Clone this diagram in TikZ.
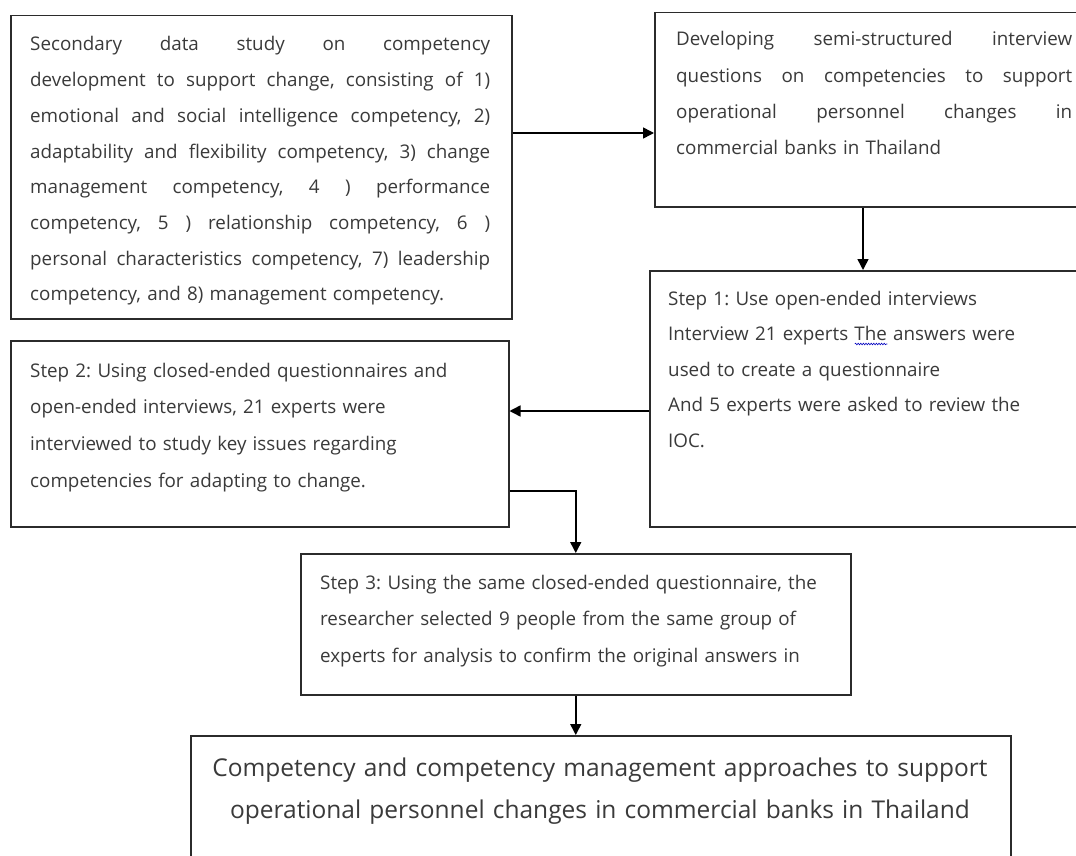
\documentclass[tikz,border=0pt]{standalone}
\usepackage{fontspec}
\setmainfont{Open Sans}
\usetikzlibrary{arrows.meta,decorations.pathmorphing}
\definecolor{txt}{HTML}{3A3A3A}
\definecolor{edge}{HTML}{2B2B2B}
\frenchspacing
\newlength\spellw
\newcommand\spellmark[1]{\settowidth\spellw{#1}\rlap{\tikz[baseline=0pt]\draw[blue!75!black,line width=0.6pt,decorate,decoration={snake,amplitude=0.8pt,segment length=2.6pt}](0pt,-3.5pt)--(\spellw,-3.5pt);}#1}
\newcommand\jl[2]{\leavevmode\hbox to #1{\spaceskip=.3333em plus 1fil\xspaceskip=.3333em plus 1fil\relax #2}\\}
\begin{document}
\begin{tikzpicture}[x=1pt,y=-1pt,
  box/.style={draw=edge,line width=1.5pt,anchor=north west,inner sep=0pt},
  txt/.style={anchor=base west,inner sep=0pt,text=txt,align=left},
  arr/.style={draw=black,line width=1.5pt,-{Triangle[length=11pt,width=11pt]}}]
\useasboundingbox (0,0) rectangle (1076,856);
\fill[white] (0,0) rectangle (1076,856);

% boxes
\node[box,minimum width=501pt,minimum height=303pt] (A) at (10,15) {};
\node[box,minimum width=440pt,minimum height=194pt] (B) at (654,12) {};
\node[box,minimum width=445pt,minimum height=256pt] (C) at (649,270) {};
\node[box,minimum width=498pt,minimum height=186pt] (D) at (10,340) {};
\node[box,minimum width=550pt,minimum height=141pt] (E) at (300,553) {};
\node[box,minimum width=820pt,minimum height=150pt] (F) at (190,735) {};

% texts
\node[txt,text width=460pt,font=\fontsize{18.8}{35.7}\selectfont\frenchspacing] (At) at (30,51) {%
\jl{460pt}{Secondary data study on competency}%
\jl{460pt}{development to support change, consisting of 1)}%
\jl{460pt}{emotional and social intelligence competency, 2)}%
\jl{460pt}{adaptability and flexibility competency, 3) change}%
\jl{460pt}{management competency, 4 ) performance}%
\jl{460pt}{competency, 5 ) relationship competency, 6 )}%
\jl{460pt}{personal characteristics competency, 7) leadership}%
competency, and 8) management competency.};

\node[txt,text width=396pt,font=\fontsize{18.8}{36.3}\selectfont\frenchspacing] (Bt) at (676,46) {%
\jl{396pt}{Developing semi-structured interview}%
\jl{396pt}{questions on competencies to support}%
\jl{396pt}{operational personnel changes in}%
commercial banks in Thailand};

\node[txt,text width=400pt,font=\fontsize{18.8}{35.5}\selectfont\frenchspacing] (Ct) at (668,305) {%
Step 1: Use open-ended interviews\\
Interview 21 experts \spellmark{The} answers were\\
used to create a questionnaire\\
And 5 experts were asked to review the\\
IOC.};

\node[txt,text width=470pt,font=\fontsize{18.8}{36.7}\selectfont\frenchspacing] (Dt) at (30,377) {%
Step 2: Using closed-ended questionnaires and\\
open-ended interviews, 21 experts were\\
interviewed to study key issues regarding\\
competencies for adapting to change.};

\node[txt,text width=520pt,font=\fontsize{18.8}{36.5}\selectfont\frenchspacing] (Et) at (320,589) {%
Step 3: Using the same closed-ended questionnaire, the\\
researcher selected 9 people from the same group of\\
experts for analysis to confirm the original answers in};

\node[anchor=base,inner sep=0pt,text=txt,align=center,text width=810pt,font=\fontsize{24.5}{42}\selectfont\frenchspacing] (Ft) at (600,776) {%
Competency and competency management approaches to support\\
operational personnel changes in commercial banks in Thailand};

% connectors
\draw[arr] (A.east |- 0,133) -- (B.west |- 0,133);
\draw[arr] (B.south -| 863,0) -- (C.north -| 863,0);
\draw[arr] (C.west |- 0,411) -- (D.east |- 0,411);
\draw[arr] (D.east |- 0,491) -| (E.north);
\draw[arr] (E.south) -- (E.south |- F.north);
\end{tikzpicture}
\end{document}
